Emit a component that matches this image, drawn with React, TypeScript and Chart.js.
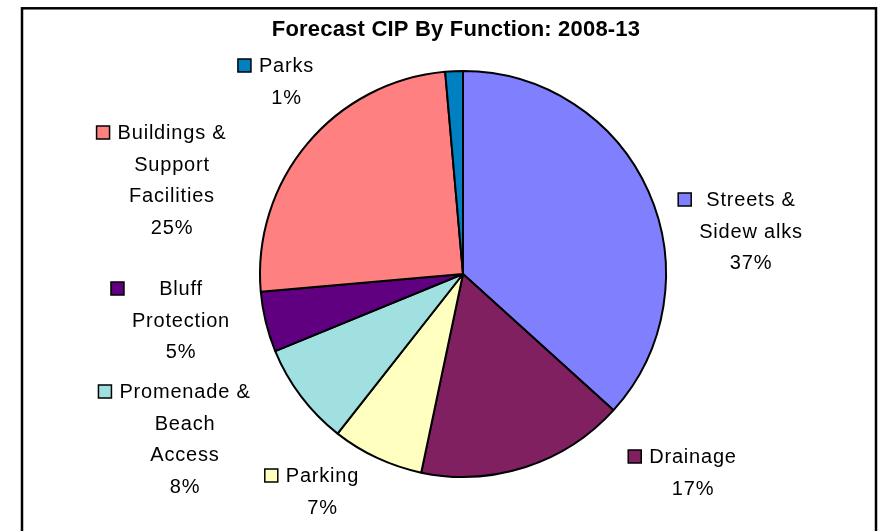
import React, { useEffect, useRef } from "react";
import { Chart, registerables } from "chart.js";

Chart.register(...registerables);

const TITLE = "Forecast CIP By Function: 2008-13";
const categories = [
  "Streets & Sidewalks",
  "Drainage",
  "Parking",
  "Promenade & Beach Access",
  "Bluff Protection",
  "Buildings & Support Facilities",
  "Parks",
];
const labelLines = [
  ["Streets &", "Sidew alks"],
  ["Drainage"],
  ["Parking"],
  ["Promenade &", "Beach", "Access"],
  ["Bluff", "Protection"],
  ["Buildings &", "Support", "Facilities"],
  ["Parks"],
];
const shares = [36.7, 16.6, 7.3, 8.2, 4.8, 25.0, 1.4];
const colors = ["#8080FF", "#802060", "#FFFFC0", "#A0E0E0", "#600080", "#FF8080", "#0080C0"];

// layout: text block centre x and first-line baseline y for each label
const labelAnchors = [
  [751, 206],
  [693, 463],
  [322.5, 482],
  [185, 398],
  [181, 295],
  [172, 139],
  [286.5, 72],
];

const W = 881;
const H = 531;

const overlay = {
  id: "overlay",
  afterDraw(chart: any) {
    const ctx = chart.ctx as CanvasRenderingContext2D;
    ctx.save();
    // frame
    ctx.strokeStyle = "#000";
    ctx.lineWidth = 2.5;
    ctx.strokeRect(22, 8.3, 854, 540);
    // title
    ctx.fillStyle = "#000";
    ctx.font = "bold 22px 'Liberation Sans', Arial, sans-serif";
    (ctx as any).letterSpacing = "0.2px";
    ctx.textAlign = "center";
    ctx.textBaseline = "alphabetic";
    ctx.fillText(TITLE, 456, 36);

    // labels
    ctx.font = "20px 'Liberation Sans', Arial, sans-serif";
    (ctx as any).letterSpacing = "0.8px";
    const total = shares.reduce((a, b) => a + b, 0);
    shares.forEach((v, i) => {
      const lines = [...labelLines[i], Math.round((v / total) * 100) + "%"];
      const [cx, by] = labelAnchors[i];
      let maxW = 0;
      lines.forEach((l) => {
        maxW = Math.max(maxW, ctx.measureText(l).width);
      });
      const left = cx - maxW / 2;
      ctx.fillStyle = "#000";
      ctx.textAlign = "center";
      lines.forEach((l, k) => {
        ctx.fillText(l, cx, by + k * 31.5);
      });
      // legend key
      const ms = 13;
      const mx = left - 8 - ms;
      const my = by - 13;
      ctx.fillStyle = colors[i];
      ctx.fillRect(mx, my, ms, ms);
      ctx.strokeStyle = "#000";
      ctx.lineWidth = 1.5;
      ctx.strokeRect(mx, my, ms, ms);
    });
    ctx.restore();
  },
};

export default function App() {
  const ref = useRef<HTMLCanvasElement>(null);
  useEffect(() => {
    document.body.style.margin = "0";
    document.body.style.overflow = "hidden";
    const chart = new Chart(ref.current!, {
      type: "pie",
      data: {
        labels: categories,
        datasets: [
          {
            data: shares,
            backgroundColor: colors,
            borderColor: "#000",
            borderWidth: 2,
          },
        ],
      },
      options: {
        animation: false,
        responsive: false,
        devicePixelRatio: 1,
        radius: 203,
        layout: { padding: { left: 45, right: 0, top: 17, bottom: 0 } },
        plugins: {
          legend: { display: false },
          title: { display: false },
          tooltip: { enabled: false },
        },
      },
      plugins: [overlay],
    });
    return () => chart.destroy();
  }, []);
  return (
    <div style={{ width: W, height: H, background: "#fff" }}>
      <canvas ref={ref} width={W} height={H} style={{ display: "block" }} />
    </div>
  );
}
